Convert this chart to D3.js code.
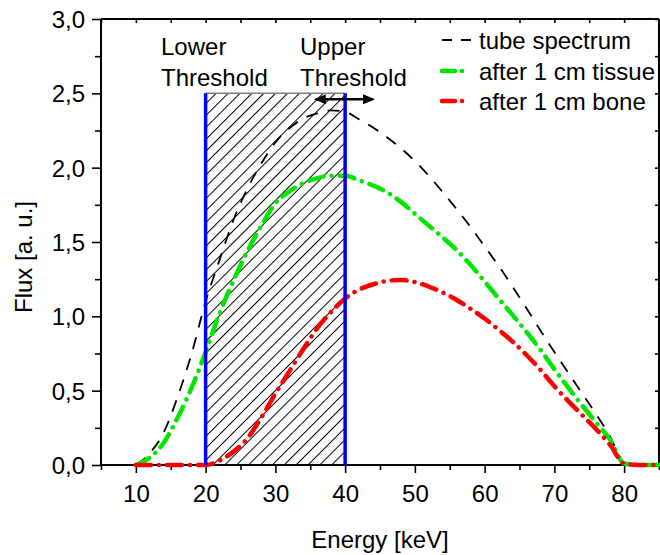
<!DOCTYPE html>
<html>
<head>
<meta charset="utf-8">
<script src="https://cdn.jsdelivr.net/npm/d3@7"></script>
<style>
  html, body { margin: 0; padding: 0; background: #fff; }
  svg text { font-family: Arial, "Liberation Sans", sans-serif; fill: #000; }
</style>
</head>
<body>
<svg id="chart" width="660" height="555"></svg>
<script>
// ---- data ----
const energy = [10, 12, 14, 16, 18, 20, 22, 24, 26, 28, 30, 32, 34, 36, 38, 40, 42, 44, 46, 48, 50, 52, 54, 56, 58, 60, 62, 64, 66, 68, 70, 72, 74, 76, 78, 80, 82, 85];
const tubeSpectrum = [0, 0.08, 0.22, 0.46, 0.75, 1.1, 1.38, 1.65, 1.86, 2.03, 2.17, 2.265, 2.33, 2.365, 2.385, 2.375, 2.325, 2.27, 2.205, 2.13, 2.045, 1.945, 1.835, 1.72, 1.6, 1.47, 1.34, 1.2, 1.055, 0.905, 0.76, 0.62, 0.48, 0.34, 0.19, 0.01, 0, 0];
const afterTissue = [0, 0.05, 0.15, 0.32, 0.52, 0.76, 1.02, 1.24, 1.44, 1.61, 1.76, 1.84, 1.895, 1.93, 1.945, 1.945, 1.915, 1.88, 1.835, 1.77, 1.69, 1.61, 1.53, 1.445, 1.345, 1.235, 1.12, 1.01, 0.895, 0.775, 0.645, 0.52, 0.4, 0.285, 0.17, 0.01, 0, 0];
const afterBone = [0, 0, 0, 0, 0, 0, 0.03, 0.09, 0.18, 0.32, 0.48, 0.63, 0.78, 0.92, 1.03, 1.12, 1.18, 1.215, 1.238, 1.245, 1.23, 1.2, 1.16, 1.11, 1.05, 0.985, 0.91, 0.83, 0.74, 0.64, 0.53, 0.43, 0.335, 0.24, 0.135, 0.01, 0, 0];
const seriesNames = ["tube spectrum", "after 1 cm tissue", "after 1 cm bone"];
const xTicks = [10, 20, 30, 40, 50, 60, 70, 80];
const yTicks = [0, 0.5, 1.0, 1.5, 2.0, 2.5, 3.0];
const thresholds = [20, 40];       // keV
const thresholdTop = 2.5;          // flux
const arrowRange = [35.8, 44];     // keV
const arrowLevel = 2.46;           // flux

// ---- layout ----
const svg = d3.select("#chart");
const x = d3.scaleLinear().domain([5, 85]).range([101, 659]);
const y = d3.scaleLinear().domain([0, 3]).range([465, 19]);
const fmt = v => d3.format(".1f")(v).replace(".", ",");

// hatch pattern
const defs = svg.append("defs");
const pat = defs.append("pattern")
  .attr("id", "hatch").attr("patternUnits", "userSpaceOnUse")
  .attr("width", 8.4).attr("height", 8.4)
  .attr("patternTransform", "rotate(45)");
pat.append("line").attr("x1", 0.5).attr("y1", 0).attr("x2", 0.5).attr("y2", 8.4)
  .attr("stroke", "#000").attr("stroke-width", 1);

// hatched threshold region
svg.append("rect")
  .attr("x", x(thresholds[0])).attr("y", y(thresholdTop))
  .attr("width", x(thresholds[1]) - x(thresholds[0]))
  .attr("height", y(0) - y(thresholdTop))
  .attr("fill", "url(#hatch)");
svg.append("line")
  .attr("x1", x(thresholds[0])).attr("x2", x(thresholds[1]))
  .attr("y1", y(thresholdTop)).attr("y2", y(thresholdTop))
  .attr("stroke", "#808080").attr("stroke-width", 1.5);

// axes
const axisW = 2;
const gB = svg.append("g").attr("transform", `translate(0,${y(0)})`);
gB.call(d3.axisBottom(x).tickValues(d3.range(5, 86, 5)).tickSize(5).tickFormat(""));
gB.call(g => g.selectAll(".tick line").filter(d => d % 10 === 0).attr("y2", 8));
gB.selectAll(".tick").filter(d => xTicks.includes(d)).append("text")
  .attr("y", 37).attr("text-anchor", "middle").attr("font-size", 24)
  .text(d => d);

const gL = svg.append("g").attr("transform", `translate(${x(5)},0)`);
gL.call(d3.axisLeft(y).tickValues(d3.range(0, 3.01, 0.25)).tickSize(6).tickFormat(""));
gL.call(g => g.selectAll(".tick line").filter(d => Math.abs(d * 2 - Math.round(d * 2)) < 1e-6).attr("x2", -9));
gL.selectAll(".tick").filter(d => yTicks.some(t => Math.abs(t - d) < 1e-6)).append("text")
  .attr("x", -16).attr("dy", "0.35em").attr("text-anchor", "end").attr("font-size", 24)
  .text(d => fmt(d));

const gT = svg.append("g").attr("transform", `translate(0,${y(3)})`);
gT.call(d3.axisTop(x).tickValues(d3.range(5, 86, 5)).tickSize(-4).tickFormat(""));
const gR = svg.append("g").attr("transform", `translate(${x(85)},0)`);
gR.call(d3.axisRight(y).tickValues(d3.range(0, 3.01, 0.25)).tickSize(-4).tickFormat(""));

[gB, gL, gT, gR].forEach(g => {
  g.select(".domain").attr("stroke", "#000").attr("stroke-width", axisW);
  g.selectAll(".tick line").attr("stroke", "#000").attr("stroke-width", 1.6);
  g.attr("font-family", null);
});
[gB, gL].forEach(g => g.selectAll(".tick text").attr("fill", "#000"));
gT.select(".domain").attr("d", `M${x(5)},0H${x(85)}`);
gR.select(".domain").attr("d", `M0,${y(0)}V${y(3)}`);
gB.select(".domain").attr("d", `M${x(5)},0H${x(85)}`);
gL.select(".domain").attr("d", `M0,${y(0)}V${y(3)}`);

// axis titles
svg.append("text").attr("x", (x(5) + x(85)) / 2).attr("y", 548)
  .attr("text-anchor", "middle").attr("font-size", 24).text("Energy [keV]");
svg.append("text").attr("transform", `translate(32,257) rotate(-90)`)
  .attr("text-anchor", "middle").attr("font-size", 24).text("Flux [a. u.]");

// curves
const styles = [
  { color: "#000", width: 1.8, dash: "12,10", cap: "butt" },
  { color: "#00e600", width: 4.5, dash: "15,8,0.1,8", cap: "round" },
  { color: "#ff0000", width: 4.5, dash: "15,8,0.1,8", cap: "round" }
];
const seriesData = [tubeSpectrum, afterTissue, afterBone];
const line = d3.line().x(d => x(d[0])).y(d => y(d[1])).curve(d3.curveMonotoneX);
seriesData.forEach((vals, i) => {
  const pts = energy.map((e, j) => [e, vals[j]]);
  svg.append("path").attr("d", line(pts)).attr("fill", "none")
    .attr("stroke", styles[i].color).attr("stroke-width", styles[i].width)
    .attr("stroke-dasharray", styles[i].dash).attr("stroke-linecap", styles[i].cap)
    .attr("stroke-linejoin", "round");
});

// threshold lines
thresholds.forEach(t => {
  svg.append("line").attr("x1", x(t)).attr("x2", x(t))
    .attr("y1", y(0)).attr("y2", y(thresholdTop))
    .attr("stroke", "#0000f0").attr("stroke-width", 3.5);
});

// double arrow
defs.append("marker").attr("id", "ah").attr("viewBox", "0 0 12 10")
  .attr("refX", 10).attr("refY", 5).attr("markerWidth", 12).attr("markerHeight", 10)
  .attr("markerUnits", "userSpaceOnUse").attr("orient", "auto-start-reverse")
  .append("path").attr("d", "M0,0L12,5L0,10Z").attr("fill", "#000");
svg.append("line")
  .attr("x1", x(arrowRange[0])).attr("x2", x(arrowRange[1]))
  .attr("y1", y(arrowLevel)).attr("y2", y(arrowLevel))
  .attr("stroke", "#000").attr("stroke-width", 2.5)
  .attr("marker-start", "url(#ah)").attr("marker-end", "url(#ah)");

// annotation texts
const ann = [
  { t: "Lower", x: 161, y: 55 }, { t: "Threshold", x: 161, y: 86 },
  { t: "Upper", x: 300, y: 55 }, { t: "Threshold", x: 300, y: 86 }
];
ann.forEach(a => svg.append("text").attr("x", a.x).attr("y", a.y)
  .attr("font-size", 24).text(a.t));

// legend
const legY = [40, 71, 101];
seriesNames.forEach((name, i) => {
  const s = styles[i];
  svg.append("line").attr("x1", 442).attr("x2", i === 0 ? 472 : 464)
    .attr("y1", legY[i]).attr("y2", legY[i])
    .attr("stroke", s.color).attr("stroke-width", s.width)
    .attr("stroke-dasharray", i === 0 ? "10,9" : "13,7,0.1,10")
    .attr("stroke-linecap", s.cap);
  svg.append("text").attr("x", 479).attr("y", legY[i] + 8.5)
    .attr("font-size", 24).text(name);
});
</script>
</body>
</html>
